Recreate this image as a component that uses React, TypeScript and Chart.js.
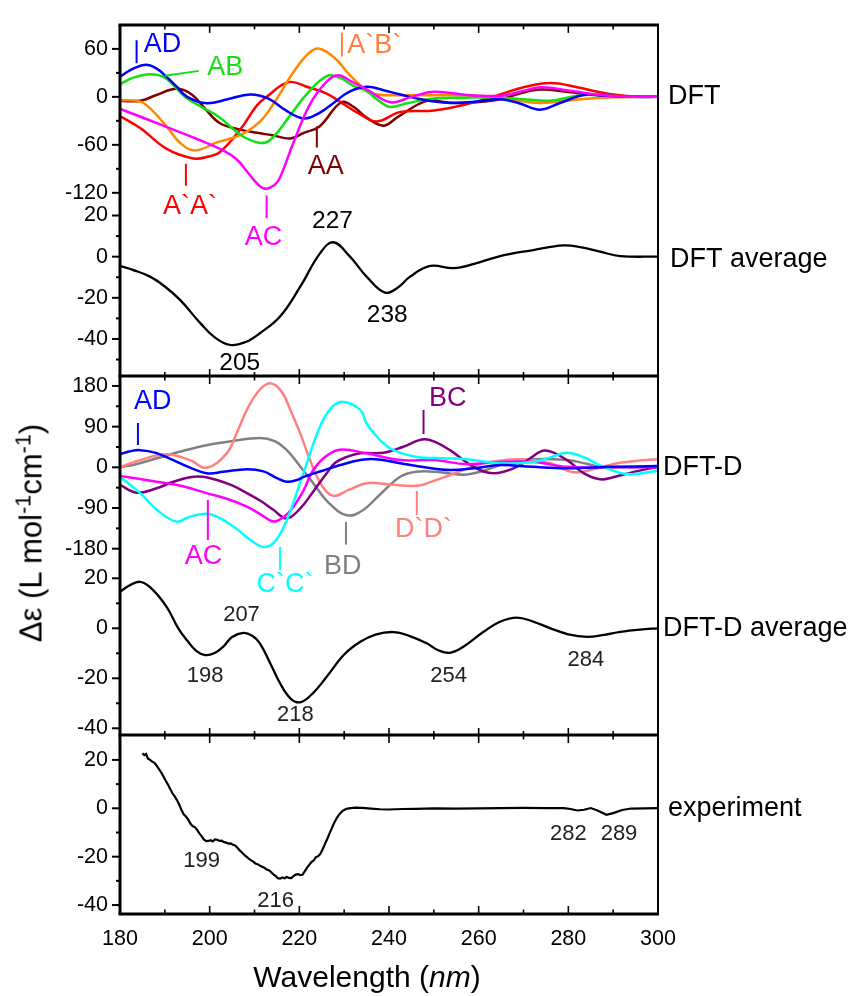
import React, { useEffect, useRef } from 'react';
import { Chart, registerables } from 'chart.js';

Chart.register(...registerables);

type Pt = [number, number];

// ---------------- wavelength axis ----------------
const WL_MIN = 180;
const WL_MAX = 300;
const WL_TICKS = [180, 200, 220, 240, 260, 280, 300];
const WL_MINOR = [190, 210, 230, 250, 270, 290];

// ---------------- DFT conformers (Δε) ----------------
const DFT_AD: Pt[] = [[180, 25], [182.5, 34], [185.5, 40], [188, 36], [190.4, 25], [192.6, 13], [195, 0], [199.3, -8], [204, -3], [209, 3], [213, -2], [217, -17], [221, -27], [224.5, -20], [228, -6], [231, 6], [235, 12.5], [239, 8], [242.5, 3], [248, -4], [253.6, -7.6], [259, -6], [264.8, -3], [269, -8], [273.7, -16], [278, -8], [283.4, 2.4], [288, 1.5], [294.6, 0], [300, 0]];
const DFT_AB: Pt[] = [[180, 16], [183, 24], [186.7, 28.4], [190, 24], [194.5, 0], [198, -12], [202.3, -26], [207, -48], [211.2, -57.6], [213.5, -54], [217.6, -26], [221.6, 3], [226.1, 26], [229, 24], [232, 14], [235, 7], [238, -6], [240.3, -12.7], [244, -8], [250, -2], [257, -1], [264.8, -1], [270, -3], [276, -4.8], [283.4, 2.4], [290, 1], [300, 0]];
const DFT_A1B1: Pt[] = [[180, -4], [184.5, -6], [187, -16], [190.4, -37], [193.5, -58], [196.7, -67], [201.6, -57], [206.8, -48], [211.2, -31], [214.2, -9], [218.7, 31], [222, 54], [224.3, 60.4], [228, 48], [231.3, 27], [235, 8], [237.3, 3], [242.5, 2], [252, 2], [261, 1], [267, -3], [273.7, -7.6], [279, -5], [283.4, -2.8], [290, -0.5], [300, 0]];
const DFT_A1A1: Pt[] = [[180, -24], [184.5, -39], [190.4, -65], [196.4, -77], [199.5, -75], [202.3, -69], [206.8, -41], [210.5, -11], [212.7, 0], [217.6, 18.4], [222, 12], [226.1, 4], [229, -6], [233.6, -22], [237.3, -30.7], [242.5, -19], [250, -17], [257.4, -9], [264.8, 3], [270, 12], [276, 17.2], [282, 12], [287.1, 5.7], [293, 1], [300, 0]];
const DFT_AA: Pt[] = [[180, -5], [184.5, -5], [188, 2], [192.6, 10], [196, 3], [199, -15], [202.3, -33], [206.8, -41], [210.5, -45], [214, -48], [218, -52], [221, -45], [224.5, -37], [229.3, -7], [232, -12], [235, -26], [238.8, -36], [242, -25], [248.4, -5], [253, -7], [257.4, -7.6], [264.8, -3], [269, 4], [273.9, 9.2], [280, 6], [287, 2], [300, 0]];
const DFT_AC: Pt[] = [[180, -15], [186, -28], [191.9, -41], [197.3, -53], [203, -67], [206, -78], [208.3, -93], [210.5, -108], [212.4, -115], [214.5, -110], [215.7, -101], [218.7, -57], [222.4, -9], [226.1, 19], [228.6, 27], [232, 18], [235, 9.4], [240.3, -6.8], [245, 0], [250, 6.4], [257.4, 2.4], [264.8, 1.2], [269, 6], [273.9, 12], [280, 8], [286, 3], [292, 0.5], [300, 0]];

// ---------------- DFT average ----------------
const DFT_AVG: Pt[] = [[180, -4.5], [183, -6.5], [186.7, -9.7], [190, -14.5], [193.4, -21], [197.9, -32.3], [201, -39], [204.5, -42.9], [208, -41.5], [211.2, -37.2], [215.7, -29.1], [220.2, -14.6], [224.6, 1.6], [227.6, 7], [231.3, 0], [235, -9.7], [239.1, -17.5], [242, -15], [244.7, -9.7], [249.2, -4.5], [254.4, -5.6], [259, -3.5], [264.8, 0.3], [272.2, 3.2], [278.9, 5.5], [283, 4.5], [287.1, 2.4], [291.6, 0.3], [300, 0]];

// ---------------- DFT-D conformers (Δε) ----------------
const DFTD_AD: Pt[] = [[180, 29], [182, 35], [184.5, 38], [188, 32], [191.9, 16], [195.5, 0], [199.3, -13], [203, -10], [208.3, -4], [212, -9], [215, -24], [217.2, -32], [219.5, -28], [221, -21], [225, -8], [229.1, 5], [233.6, 16], [237, 18], [242.5, 9], [248, 0], [253.6, -6], [259, -2], [264.8, 5], [272, 1], [279.7, -2], [290, 1], [300, 3]];
const DFTD_BD: Pt[] = [[180, 0], [184, 8], [188.2, 20], [194, 36], [199.3, 49], [205, 58], [211.2, 65], [214.5, 58], [217.2, 38], [220.2, 2], [223.1, -35], [226.5, -78], [230.6, -106], [234, -96], [238, -60], [242.5, -21], [246, -10], [250, -10], [254, -14], [257.4, -16], [261, -8], [264.8, 5], [268.5, 14], [272.2, 18], [279.7, 16], [284, 8], [287.1, 1], [293, 0], [300, 0]];
const DFTD_D1D1: Pt[] = [[180, 0], [184.5, 16], [190.4, 29], [195.6, 16], [199.3, -1], [203.8, 31], [206, 75], [208.3, 127], [211, 170], [213.5, 186], [216, 168], [218, 127], [220.2, 75], [222.4, 16], [225, -40], [227.6, -63], [231, -50], [235, -35], [240, -38], [246.2, -41], [250, -30], [253.6, -17], [257.4, -3], [261, 9], [264.8, 15], [268.5, 18], [272, 16], [276, 9], [281.2, -11], [286, -3], [290.9, 9], [295, 14], [300, 18]];
const DFTD_C1C1: Pt[] = [[180, -21], [184.5, -57], [188.2, -94], [192.6, -120], [195.6, -109], [200.1, -104], [205.3, -131], [209, -160], [212, -176], [214.5, -165], [217.2, -117], [220.9, -13], [224.6, 90], [227, 130], [229.5, 145], [233.6, 127], [235, 97], [238, 60], [241, 38], [246.2, 23], [252, 20], [257.4, 18], [264.8, 9], [272.2, 12], [276, 22], [279.7, 32], [284, 20], [287.1, 4], [293.1, -15], [300, -7.5]];
const DFTD_AC: Pt[] = [[180, -19], [188.2, -32], [194, -42], [199.3, -57], [204, -70], [208.3, -87], [211.5, -105], [214.2, -120], [216.5, -110], [218.7, -87], [221, -50], [223.1, -6], [226, 25], [229.1, 39], [235, 31], [242.5, 16], [250, 16], [257.4, 7], [264.8, 12], [272.2, 12], [279.7, 1], [290, 0], [300, 0]];
const DFTD_BC: Pt[] = [[180, -39], [183.7, -56], [188, -47], [191.9, -32], [195.6, -22], [198.5, -21], [201.6, -28], [205, -40], [208.3, -57], [211.5, -75], [214.2, -94], [217.2, -113], [220.2, -91], [223, -55], [226.1, -13], [228, 10], [230.6, 23], [233.6, 31], [238.8, 32], [243, 45], [247.7, 62], [250.5, 55], [253.6, 38], [258.9, 1], [263.4, -13], [268.5, 1], [271.5, 20], [274.8, 37], [279.7, 16], [283.4, -13], [287.1, -26.5], [290, -22], [294.6, -10], [300, 1]];

// ---------------- DFT-D average ----------------
const DFTD_AVG: Pt[] = [[180, 14.6], [182, 17], [184.5, 18.6], [187, 16], [190.4, 8.6], [193, 0], [194.9, -4.7], [197, -9], [199, -10.7], [201, -10], [203, -7.4], [205, -3.5], [207.5, -1.8], [209.5, -3], [211.2, -6], [213.5, -14], [215.7, -22], [218, -28], [220.2, -29.6], [223, -26], [226.1, -19.4], [230, -10.5], [233.6, -5.4], [237, -2.5], [241, -1.5], [244.5, -3], [248.4, -6], [251, -8.8], [253.6, -9.8], [256.5, -7.5], [261.1, -1.4], [265, 2.8], [268.5, 4.3], [272, 2.8], [276, 0], [280, -2.4], [284.2, -3.4], [288, -2.6], [291.6, -1.4], [296, -0.5], [300, 0]];

// ---------------- measured spectrum ----------------
const EXPERIMENT: Pt[] = [
  [185.0, 22.8], [185.4, 22.0], [185.8, 22.5], [186.2, 20.6], [186.7, 20.0], [187.2, 19.3], [187.7, 18.8], [188.2, 17.5],
  [188.7, 16.2], [189.2, 14.8], [189.7, 13.1], [190.2, 11.4], [190.7, 9.8], [191.2, 8.0], [191.7, 6.2], [192.2, 4.9],
  [192.7, 3.4], [193.2, 1.6], [193.7, -0.6], [194.2, -2.5], [194.7, -3.4], [195.2, -4.6], [195.7, -6.3], [196.2, -7.4],
  [196.7, -7.8], [197.2, -8.9], [197.7, -10.4], [198.2, -11.5], [198.7, -12.9], [199.2, -13.6], [199.7, -13.5], [200.2, -13.2],
  [200.7, -13.7], [201.2, -12.9], [201.7, -13.0], [202.2, -13.5], [202.7, -13.4], [203.2, -14.0], [203.7, -14.2], [204.2, -14.6],
  [204.7, -14.5], [205.2, -15.1], [205.7, -15.4], [206.2, -16.3], [206.7, -17.4], [207.2, -18.3], [207.7, -19.2], [208.2, -20.0],
  [208.7, -20.8], [209.2, -21.4], [209.7, -22.0], [210.2, -22.8], [210.7, -23.1], [211.2, -23.7], [211.7, -24.2], [212.2, -24.6],
  [212.7, -25.3], [213.2, -25.6], [213.7, -26.4], [214.2, -27.3], [214.7, -27.9], [215.2, -28.9], [215.7, -29.1], [216.2, -28.6],
  [216.7, -28.9], [217.2, -28.4], [217.7, -28.8], [218.2, -28.9], [218.7, -28.0], [219.2, -27.4], [219.7, -27.2], [220.2, -27.6],
  [220.7, -27.5], [221.2, -26.1], [221.7, -24.6], [222.2, -23.4], [222.7, -22.2], [223.2, -21.6], [223.7, -20.2], [224.2, -19.8],
  [224.7, -18.8], [225.2, -16.9], [225.7, -14.8], [226.2, -12.8], [226.7, -10.6], [227.2, -8.4], [227.7, -6.3], [228.2, -4.5],
  [228.7, -3.0], [229.2, -1.9], [229.7, -1.0], [230.2, -0.5], [230.7, -0.1], [231.5, 0.1], [232.5, 0.3], [234, 0.2],
  [236, -0.1], [238, -0.4], [240, -0.5], [243, -0.3], [246, -0.2], [250, 0.0], [255, -0.1], [260, 0.0],
  [265, 0.1], [270, 0.2], [275, 0.1], [279, 0.1], [280.5, -0.3], [282, -0.9], [283.5, -0.6], [285, 0.1],
  [286.5, -0.9], [288.5, -2.7], [290, -2.0], [292, -0.7], [294, -0.1], [297, 0.0], [300, 0.1],
];

// ---------------- Δε axis ticks per panel ----------------
const DFT_TICKS = [60, 0, -60, -120];
const DFT_MINOR = [30, -30, -90];
const AVG_TICKS = [20, 0, -20, -40];
const DFT_AVG_MINOR = [10, -10, -30, -50];
const DFTD_TICKS = [180, 90, 0, -90, -180];
const DFTD_MINOR = [135, 45, -45, -135];
const AVG_MINOR = [10, -10, -30];

// ---------------- layout ----------------
const W = 862;
const H = 996;
const PLOT_LEFT = 120;
const PLOT_RIGHT = 658;
const X_AXIS_H = 50;
const FONT = '"Liberation Sans", Arial, Helvetica, sans-serif';

interface Series { label: string; color: string; points: Pt[]; width?: number; straight?: boolean }
interface Note { text: string; x: number; y: number; color: string; size: number }
interface Mark { x1: number; y1: number; x2: number; y2: number; color: string }
interface PanelSpec {
  name: string; nameY: number; nameDx: number;
  top: number; bottom: number;
  yMin: number; yMax: number; yTicks: number[]; yMinor: number[];
  series: Series[]; notes: Note[]; marks: Mark[];
  topEdge: 'frame' | 'sep' | 'none'; bottomEdge: 'frame' | 'none';
  showX: boolean;
}

const BLUE = '#0000ff';
const GREEN = '#11e011';
const ORANGE = '#ff8800';
const RED = '#ff0000';
const BROWN = '#800000';
const MAGENTA = '#ff00ff';
const PURPLE = '#800080';
const GRAY = '#808080';
const SALMON = '#ff8080';
const CYAN = '#00ffff';
const NUM = '#222222';
const LBL = 27;

const PANELS: PanelSpec[] = [
  {
    name: 'DFT', nameY: 0, nameDx: 10, top: 17, bottom: 204,
    yMin: -134, yMax: 90, yTicks: DFT_TICKS, yMinor: DFT_MINOR,
    series: [
      { label: 'AC', color: MAGENTA, points: DFT_AC },
      { label: 'AD', color: BLUE, points: DFT_AD },
      { label: 'AB', color: GREEN, points: DFT_AB },
      { label: 'A`B`', color: ORANGE, points: DFT_A1B1 },
      { label: 'A`A`', color: RED, points: DFT_A1A1 },
      { label: 'AA', color: BROWN, points: DFT_AA },
    ],
    notes: [
      { text: 'AD', x: 189.5, y: 66, color: BLUE, size: LBL },
      { text: 'AB', x: 203.5, y: 36.7, color: GREEN, size: LBL },
      { text: 'A`B`', x: 236.7, y: 63.6, color: '#ff8040', size: LBL },
      { text: 'AA', x: 225.9, y: -87.3, color: BROWN, size: LBL },
      { text: 'A`A`', x: 195.6, y: -137.6, color: RED, size: LBL },
      { text: 'AC', x: 212.0, y: -176, color: MAGENTA, size: LBL },
    ],
    marks: [
      { x1: 183.7, y1: 70.8, x2: 183.7, y2: 42.1, color: BLUE },
      { x1: 190.0, y1: 26.5, x2: 197.6, y2: 32.5, color: GREEN },
      { x1: 229.5, y1: 80.4, x2: 229.5, y2: 50.5, color: '#ff8040' },
      { x1: 223.9, y1: -37, x2: 223.9, y2: -63.3, color: BROWN },
      { x1: 194.7, y1: -83.7, x2: 194.7, y2: -111.2, color: RED },
      { x1: 212.7, y1: -123.2, x2: 212.7, y2: -151.9, color: MAGENTA },
    ],
    topEdge: 'frame', bottomEdge: 'none', showX: false,
  },
  {
    name: 'DFT average', nameY: -1.5, nameDx: 12, top: 204, bottom: 376,
    yMin: -58, yMax: 25.6, yTicks: AVG_TICKS, yMinor: DFT_AVG_MINOR,
    series: [{ label: 'DFT average', color: '#000000', points: DFT_AVG, width: 2.3 }],
    notes: [
      { text: '227', x: 227.4, y: 17.4, color: '#000000', size: 24.5 },
      { text: '238', x: 239.6, y: -28.6, color: '#000000', size: 24.5 },
      { text: '205', x: 206.7, y: -51.9, color: '#000000', size: 24.5 },
    ],
    marks: [],
    topEdge: 'none', bottomEdge: 'none', showX: false,
  },
  {
    name: 'DFT-D', nameY: 0, nameDx: 5, top: 376, bottom: 560,
    yMin: -205, yMax: 202, yTicks: DFTD_TICKS, yMinor: DFTD_MINOR,
    series: [
      { label: 'AD', color: BLUE, points: DFTD_AD },
      { label: 'C`C`', color: CYAN, points: DFTD_C1C1 },
      { label: 'AC', color: MAGENTA, points: DFTD_AC },
      { label: 'BC', color: PURPLE, points: DFTD_BC },
      { label: 'D`D`', color: SALMON, points: DFTD_D1D1 },
      { label: 'BD', color: GRAY, points: DFTD_BD },
    ],
    notes: [
      { text: 'AD', x: 187.3, y: 144.5, color: BLUE, size: LBL },
      { text: 'BC', x: 253.1, y: 151.3, color: PURPLE, size: LBL },
      { text: 'AC', x: 198.6, y: -198.4, color: MAGENTA, size: LBL },
      { text: 'C`C`', x: 216.8, y: -260.3, color: CYAN, size: LBL },
      { text: 'BD', x: 229.7, y: -220.5, color: GRAY, size: LBL },
      { text: 'D`D`', x: 247.7, y: -138.6, color: SALMON, size: LBL },
    ],
    marks: [
      { x1: 184.0, y1: 98, x2: 184.0, y2: 49.4, color: BLUE },
      { x1: 247.7, y1: 126.8, x2: 247.7, y2: 73.7, color: PURPLE },
      { x1: 199.6, y1: -72.3, x2: 199.6, y2: -160.8, color: MAGENTA },
      { x1: 215.7, y1: -176.2, x2: 215.7, y2: -227, color: CYAN },
      { x1: 230.4, y1: -120.6, x2: 230.4, y2: -171, color: GRAY },
      { x1: 246.2, y1: -52.4, x2: 246.2, y2: -105.5, color: SALMON },
    ],
    topEdge: 'sep', bottomEdge: 'none', showX: false,
  },
  {
    name: 'DFT-D average', nameY: 0, nameDx: 5, top: 560, bottom: 735,
    yMin: -42.68, yMax: 27.32, yTicks: AVG_TICKS, yMinor: AVG_MINOR,
    series: [{ label: 'DFT-D average', color: '#000000', points: DFTD_AVG, width: 2.3 }],
    notes: [
      { text: '207', x: 207.1, y: 5.3, color: NUM, size: 22 },
      { text: '198', x: 199.0, y: -18.9, color: NUM, size: 22 },
      { text: '218', x: 219.1, y: -34.7, color: NUM, size: 22 },
      { text: '254', x: 253.3, y: -19.1, color: NUM, size: 22 },
      { text: '284', x: 283.9, y: -12.7, color: NUM, size: 22 },
    ],
    marks: [],
    topEdge: 'none', bottomEdge: 'none', showX: false,
  },
  {
    name: 'experiment', nameY: 0, nameDx: 10, top: 735, bottom: 914,
    yMin: -43.7, yMax: 30.3, yTicks: AVG_TICKS, yMinor: AVG_MINOR,
    series: [{ label: 'experiment', color: '#000000', points: EXPERIMENT, width: 2.2, straight: true }],
    notes: [
      { text: '199', x: 198.2, y: -21.6, color: NUM, size: 22 },
      { text: '216', x: 214.7, y: -38.2, color: NUM, size: 22 },
      { text: '282', x: 280.0, y: -10.4, color: NUM, size: 22 },
      { text: '289', x: 291.3, y: -10.4, color: NUM, size: 22 },
    ],
    marks: [],
    topEdge: 'sep', bottomEdge: 'frame', showX: true,
  },
];

function seg(ctx: CanvasRenderingContext2D, x1: number, y1: number, x2: number, y2: number, w: number) {
  ctx.lineWidth = w;
  ctx.beginPath();
  ctx.moveTo(x1, y1);
  ctx.lineTo(x2, y2);
  ctx.stroke();
}

// Frame, tick marks and text labels for one panel
function decor(spec: PanelSpec) {
  return {
    id: 'panelDecor',
    afterDraw(chart: any) {
      const { ctx, chartArea: a, scales } = chart;
      const xs = scales.x;
      const ys = scales.y;
      ctx.save();
      ctx.strokeStyle = '#000';
      ctx.lineCap = 'butt';

      seg(ctx, a.left, a.top, a.left, a.bottom, 3);
      seg(ctx, a.right, a.top, a.right, a.bottom, 2);

      for (const v of spec.yTicks) {
        const p = ys.getPixelForValue(v);
        seg(ctx, a.left - 8, p, a.left, p, 2);
      }
      for (const v of spec.yMinor) {
        const p = ys.getPixelForValue(v);
        seg(ctx, a.left - 4, p, a.left, p, 2);
      }

      if (spec.topEdge !== 'none') {
        const y = a.top;
        seg(ctx, a.left - 1.5, y, a.right + 1, y, 3);
        const up = spec.topEdge === 'sep';
        for (const v of WL_TICKS) {
          const p = xs.getPixelForValue(v);
          seg(ctx, p, up ? y - 7 : y, p, y + 8, 1.6);
        }
        for (const v of WL_MINOR) {
          const p = xs.getPixelForValue(v);
          seg(ctx, p, up ? y - 4 : y, p, y + 4.5, 1.6);
        }
      }
      if (spec.bottomEdge === 'frame') {
        const y = a.bottom;
        seg(ctx, a.left - 1.5, y, a.right + 1, y, 3);
        for (const v of WL_TICKS) {
          const p = xs.getPixelForValue(v);
          seg(ctx, p, y - 8, p, y, 1.6);
        }
        for (const v of WL_MINOR) {
          const p = xs.getPixelForValue(v);
          seg(ctx, p, y - 4.5, p, y, 1.6);
        }
      }

      for (const m of spec.marks) {
        ctx.strokeStyle = m.color;
        seg(ctx, xs.getPixelForValue(m.x1), ys.getPixelForValue(m.y1), xs.getPixelForValue(m.x2), ys.getPixelForValue(m.y2), 2);
      }

      ctx.textBaseline = 'middle';
      ctx.textAlign = 'center';
      for (const n of spec.notes) {
        ctx.font = `${n.size}px ${FONT}`;
        ctx.fillStyle = n.color;
        ctx.fillText(n.text, xs.getPixelForValue(n.x), ys.getPixelForValue(n.y));
      }

      ctx.textAlign = 'left';
      ctx.font = `27px ${FONT}`;
      ctx.fillStyle = '#000';
      ctx.fillText(spec.name, a.right + spec.nameDx, ys.getPixelForValue(spec.nameY));
      ctx.restore();
    },
  };
}

function buildConfig(spec: PanelSpec): any {
  const tickFont = { family: FONT, size: 21.5 };
  return {
    type: 'line',
    data: {
      datasets: spec.series.map((s) => ({
        label: s.label,
        data: s.points.map(([x, y]) => ({ x, y })),
        borderColor: s.color,
        borderWidth: s.width ?? 2.5,
        pointRadius: 0,
        fill: false,
        tension: s.straight ? 0 : 0.4,
        cubicInterpolationMode: 'default',
      })),
    },
    options: {
      responsive: false,
      animation: false,
      devicePixelRatio: 1,
      events: [],
      layout: {
        padding: {
          left: 0,
          right: W - PLOT_RIGHT,
          top: spec.top,
          bottom: spec.showX ? H - spec.bottom - X_AXIS_H : H - spec.bottom,
        },
      },
      plugins: { legend: { display: false }, tooltip: { enabled: false } },
      scales: {
        x: {
          type: 'linear',
          min: WL_MIN,
          max: WL_MAX,
          display: spec.showX,
          grid: { display: false, drawTicks: false },
          border: { display: false },
          ticks: { padding: 12, font: tickFont, color: '#000', maxRotation: 0, autoSkip: false, callback: (v: number) => String(v) },
          afterBuildTicks: (s: any) => { s.ticks = WL_TICKS.map((v) => ({ value: v })); },
          afterFit: (s: any) => { s.height = spec.showX ? X_AXIS_H : 0; },
        },
        y: {
          type: 'linear',
          min: spec.yMin,
          max: spec.yMax,
          grid: { display: false, drawTicks: false },
          border: { display: false },
          ticks: { padding: 12, font: tickFont, color: '#000', autoSkip: false, callback: (v: number) => String(v) },
          afterBuildTicks: (s: any) => { s.ticks = spec.yTicks.map((v) => ({ value: v })); },
          afterFit: (s: any) => { s.width = PLOT_LEFT; },
        },
      },
    },
    plugins: [decor(spec)],
  };
}

function PanelCanvas({ spec }: { spec: PanelSpec }) {
  const ref = useRef<HTMLCanvasElement>(null);
  useEffect(() => {
    if (!ref.current) return;
    const chart = new Chart(ref.current, buildConfig(spec));
    return () => chart.destroy();
  }, [spec]);
  return <canvas ref={ref} width={W} height={H} style={{ position: 'absolute', left: 0, top: 0 }} />;
}

export default function App() {
  const sup: React.CSSProperties = { fontSize: '0.7em', verticalAlign: 'super', lineHeight: 0 };
  return (
    <div style={{ position: 'absolute', left: 0, top: 0, width: W, height: H, background: '#fff', fontFamily: FONT, color: '#000', overflow: 'hidden' }}>
      {PANELS.map((p) => <PanelCanvas key={p.name} spec={p} />)}
      <div style={{ position: 'absolute', left: 31, top: 533, transform: 'translate(-50%, -50%) rotate(-90deg)', whiteSpace: 'nowrap', fontSize: 31, lineHeight: 1 }}>
        Δε (L mol<sup style={sup}>-1</sup>cm<sup style={sup}>-1</sup>)
      </div>
      <div style={{ position: 'absolute', left: 367, top: 977, transform: 'translate(-50%, -50%)', whiteSpace: 'nowrap', fontSize: 30, lineHeight: 1 }}>
        Wavelength (<i>nm</i>)
      </div>
    </div>
  );
}
